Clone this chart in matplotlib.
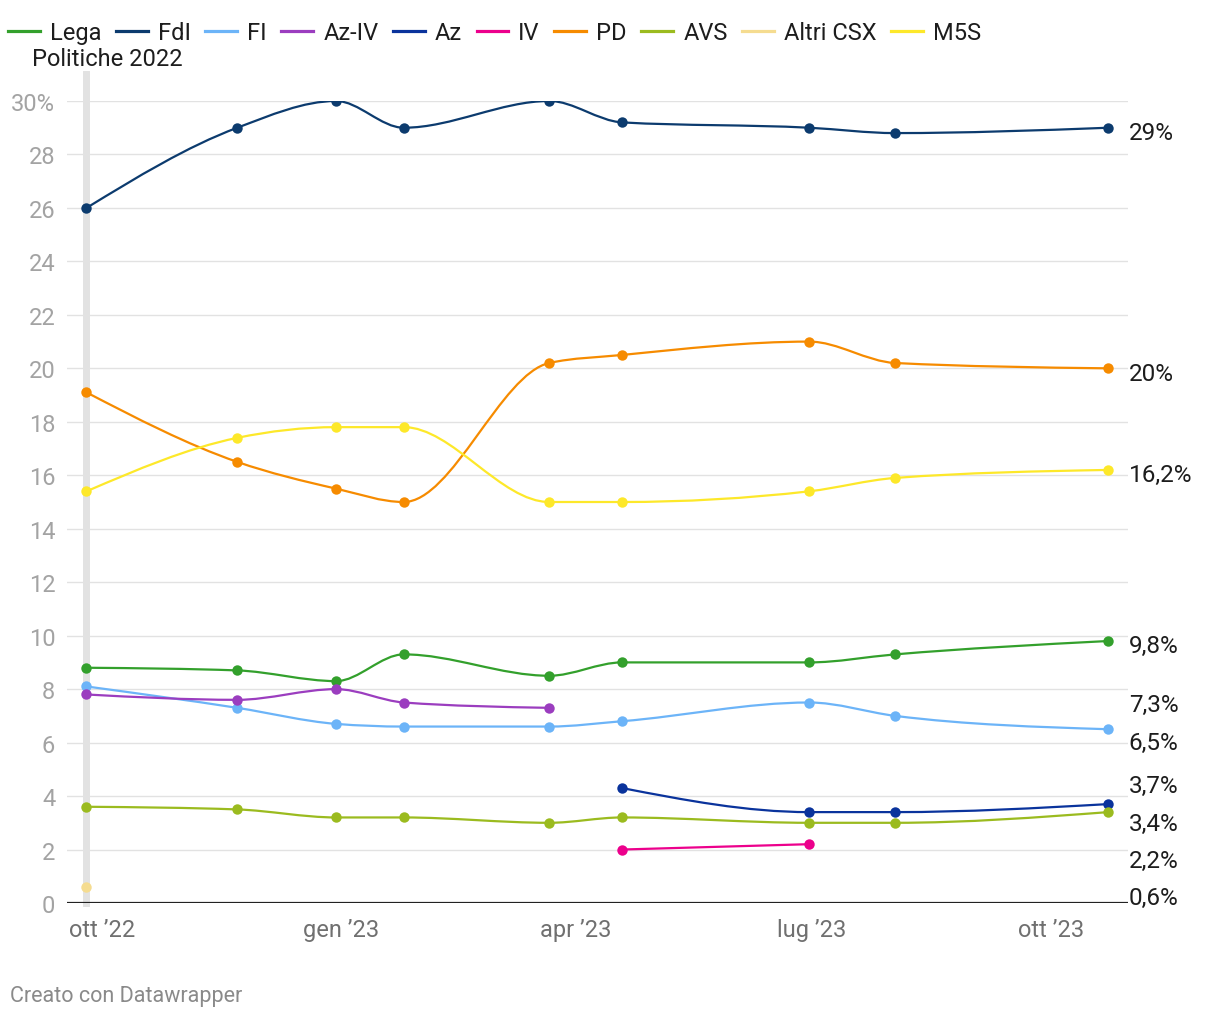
import numpy as np
import matplotlib.pyplot as plt
import matplotlib.dates as mdates
from matplotlib.path import Path
from matplotlib.patches import PathPatch
from matplotlib.lines import Line2D

plt.rcParams['font.family'] = ['Roboto', 'DejaVu Sans']

# poll dates (first one = Politiche 2022)
dates = ['2022-09-25', '2022-11-22', '2022-12-30', '2023-01-25', '2023-03-22',
         '2023-04-19', '2023-06-30', '2023-08-02', '2023-10-23']

nan = np.nan
parties = ['Lega', 'FdI', 'FI', 'Az-IV', 'Az', 'IV', 'PD', 'AVS', 'Altri CSX', 'M5S']
colors = ['#33a02c', '#0c3b6e', '#6cb4f8', '#9b3dbf', '#0a339c', '#ec008c',
          '#f68b00', '#9bbb1f', '#f5dc90', '#fde82a']

lega = [8.8, 8.7, 8.3, 9.3, 8.5, 9.0, 9.0, 9.3, 9.8]
fdi = [26.0, 29.0, 30.0, 29.0, 30.0, 29.2, 29.0, 28.8, 29.0]
fi = [8.1, 7.3, 6.7, 6.6, 6.6, 6.8, 7.5, 7.0, 6.5]
az_iv = [7.8, 7.6, 8.0, 7.5, 7.3, nan, nan, nan, nan]
az = [nan, nan, nan, nan, nan, 4.3, 3.4, 3.4, 3.7]
iv = [nan, nan, nan, nan, nan, 2.0, 2.2, nan, nan]
pd_ = [19.1, 16.5, 15.5, 15.0, 20.2, 20.5, 21.0, 20.2, 20.0]
avs = [3.6, 3.5, 3.2, 3.2, 3.0, 3.2, 3.0, 3.0, 3.4]
altri = [0.6, nan, nan, nan, nan, nan, nan, nan, nan]
m5s = [15.4, 17.4, 17.8, 17.8, 15.0, 15.0, 15.4, 15.9, 16.2]

series = [lega, fdi, fi, az_iv, az, iv, pd_, avs, altri, m5s]
last_labels = ['9,8%', '29%', '6,5%', '7,3%', '3,7%', '2,2%', '20%', '3,4%', '0,6%', '16,2%']

tick_dates = ['2022-10-01', '2023-01-01', '2023-04-01', '2023-07-01', '2023-10-01']
tick_labels = ['ott ’22', 'gen ’23', 'apr ’23', 'lug ’23', 'ott ’23']


def monotone_path(x, y):
    # same curve as d3.curveMonotoneX
    n = len(x)
    if n < 3:
        return Path(np.column_stack([x, y]))
    h = np.diff(x)
    s = np.diff(y) / h
    t = np.zeros(n)
    for i in range(1, n - 1):
        p = (s[i - 1] * h[i] + s[i] * h[i - 1]) / (h[i - 1] + h[i])
        t[i] = (np.sign(s[i - 1]) + np.sign(s[i])) * min(abs(s[i - 1]), abs(s[i]), 0.5 * abs(p))
    t[0] = (3 * s[0] - t[1]) / 2
    t[-1] = (3 * s[-1] - t[-2]) / 2
    verts = [(x[0], y[0])]
    codes = [Path.MOVETO]
    for i in range(n - 1):
        dx = h[i] / 3
        verts += [(x[i] + dx, y[i] + dx * t[i]), (x[i + 1] - dx, y[i + 1] - dx * t[i + 1]), (x[i + 1], y[i + 1])]
        codes += [Path.CURVE4] * 3
    return Path(verts, codes)


def spread(values, gap):
    # push end labels apart, keeping each group centred on its values
    order = np.argsort(values)
    groups = [[i] for i in order]
    while True:
        pos = {}
        for g in groups:
            c = np.mean([values[i] for i in g])
            for k, i in enumerate(g):
                pos[i] = c + (k - (len(g) - 1) / 2) * gap
        merged = False
        for j in range(len(groups) - 1):
            if pos[groups[j + 1][0]] - pos[groups[j][-1]] < gap - 1e-9:
                groups[j] = groups[j] + groups[j + 1]
                del groups[j + 1]
                merged = True
                break
        if not merged:
            return pos


x = mdates.datestr2num(dates)

fig = plt.figure(figsize=(12.2, 10.2), dpi=100)
ax = fig.add_axes([67 / 1220, 1 - 904 / 1020, (1128 - 67) / 1220, 802 / 1020])

ax.set_ylim(0, 30)
ax.set_xlim(mdates.datestr2num('2022-09-17') + 0.5, mdates.datestr2num('2023-10-30') + 0.6)

for g in range(2, 31, 2):
    ax.axhline(g, color='#e2e2e2', lw=1, zorder=0)
ax.axhline(0, color='#222222', lw=1.6, zorder=1)
ax.axvline(x[0], ymin=0, ymax=1.034, color='#e2e2e2', lw=5, zorder=0.5, clip_on=False)

ends = []
for vals, col, lab in zip(series, colors, last_labels):
    v = np.array(vals, dtype=float)
    ok = ~np.isnan(v)
    xs, ys = x[ok], v[ok]
    if len(xs) > 1:
        ax.add_patch(PathPatch(monotone_path(xs, ys), fill=False, edgecolor=col, lw=1.6, zorder=2))
    ax.plot(xs, ys, 'o', color=col, ms=7.5, mec='none', zorder=3)
    ends.append(ys[-1])

label_pos = spread(ends, 1.4)
for i, lab in enumerate(last_labels):
    ax.annotate(lab, xy=(1.0, label_pos[i]), xycoords=('axes fraction', 'data'),
                xytext=(0.5, -3.5), textcoords='offset points', ha='left', va='center',
                fontsize=17.5, color='#1d1d1d', annotation_clip=False)

ax.set_yticks(range(0, 31, 2))
ax.set_yticklabels([str(t) if t < 30 else '30%' for t in range(0, 31, 2)])
ax.set_xticks(mdates.datestr2num(tick_dates))
ax.set_xticklabels(tick_labels)
ax.tick_params(axis='y', length=0, pad=8.5, labelsize=17, labelcolor='#a3a3a3')
ax.tick_params(axis='x', length=0, pad=10.5, labelsize=17, labelcolor='#707070')
for s in ax.spines.values():
    s.set_visible(False)

fig.text(107 / 1220, 1 - 60 / 1020, 'Politiche 2022', ha='center', va='center',
         fontsize=17, color='#1d1d1d')

handles = [Line2D([], [], color=c, lw=2.3) for c in colors]
fig.legend(handles, parties, loc='upper left', bbox_to_anchor=(8 / 1220, 1 - 22 / 1020),
           ncol=10, frameon=False, fontsize=17, handlelength=1.35, handletextpad=0.42,
           columnspacing=0.62, borderpad=0, borderaxespad=0, labelcolor='#1d1d1d')

fig.text(10 / 1220, 1 - 997 / 1020, 'Creato con Datawrapper', ha='left', va='center',
         fontsize=15.5, color='#8a8a8a')

fig.savefig('out.png', dpi=100)
